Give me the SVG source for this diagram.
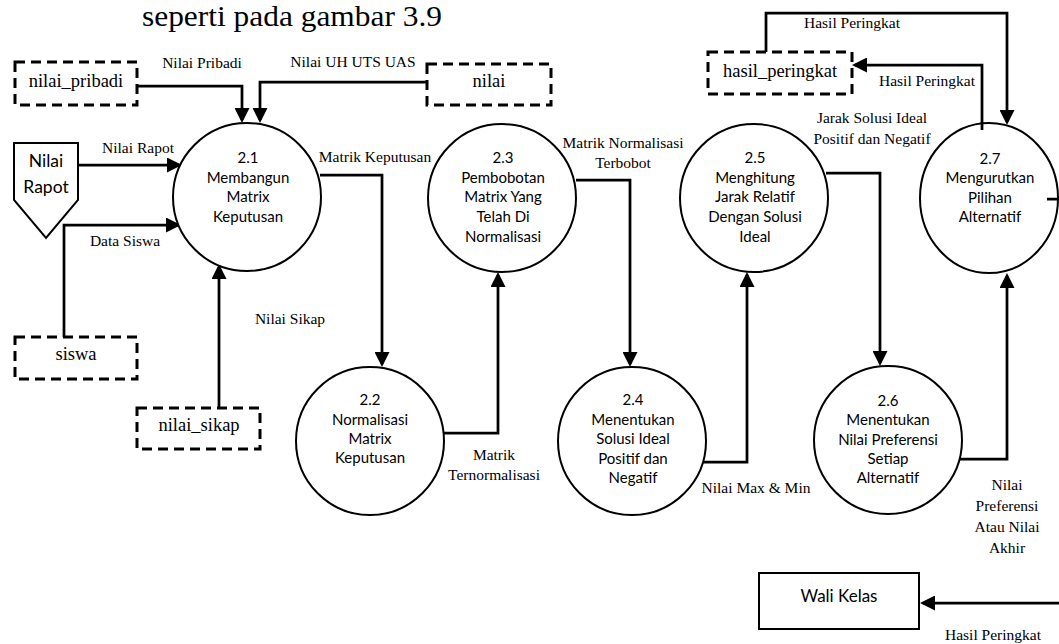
<svg xmlns="http://www.w3.org/2000/svg" width="1059" height="644" viewBox="0 0 1059 644">
<style>
.bg{fill:#fff}
.proc{fill:#fff;stroke:#000;stroke-width:2}
.store{fill:none;stroke:#000;stroke-width:3;stroke-dasharray:10 6}
.ext{fill:#fff;stroke:#000;stroke-width:2}
.flow{fill:none;stroke:#000;stroke-width:2.75;marker-end:url(#ah)}
.pt{font-family:Lato,"Liberation Sans",sans-serif;font-size:15px;text-anchor:middle;fill:#000}
.et{font-family:Lato,"Liberation Sans",sans-serif;font-size:17.5px;text-anchor:middle;fill:#000}
.st{font-family:"Liberation Serif",serif;font-size:18.5px;text-anchor:middle;fill:#000}
.lt{font-family:"Liberation Serif",serif;font-size:15.5px;text-anchor:middle;fill:#000}
.title{font-family:"Liberation Serif",serif;font-size:30px;fill:#000}
</style>
<defs>
<marker id="ah" markerUnits="userSpaceOnUse" markerWidth="15" markerHeight="15" viewBox="0 0 15 15" refX="12" refY="7.5" orient="auto">
<path d="M0,0 L15,7.5 L0,15 Z" fill="#000"/>
</marker>
</defs>
<rect class="bg" x="0" y="0" width="1059" height="644"/>
<text class="title" x="142" y="26" textLength="300" lengthAdjust="spacingAndGlyphs">seperti pada gambar 3.9</text>

<g id="connectors">
<path class="flow" d="M137,86 H242 V120"/>
<path class="flow" d="M427,82 H260 V120"/>
<path class="flow" d="M78,165 H179"/>
<path class="flow" d="M64,337 V225 H178"/>
<path class="flow" d="M219,408 V267"/>
<path class="flow" d="M320,175 H382 V364"/>
<path class="flow" d="M443,433 H498 V275"/>
<path class="flow" d="M576,180 H630 V364"/>
<path class="flow" d="M703,462 H747 V275"/>
<path class="flow" d="M826,173 H880 V363"/>
<path class="flow" d="M958,459 H1007 V276"/>
<path class="flow" d="M766,52 V13 H1007 V122"/>
<path class="flow" d="M982,130 V65 H855"/>
<path class="flow" d="M1047,199 H1063 V603 H923"/>
<text class="lt" x="202" y="68">Nilai Pribadi</text>
<text class="lt" x="353" y="67">Nilai UH UTS UAS</text>
<text class="lt" x="138" y="153">Nilai Rapot</text>
<text class="lt" x="125" y="246">Data Siswa</text>
<text class="lt" x="290" y="324">Nilai Sikap</text>
<text class="lt" x="375" y="162">Matrik Keputusan</text>
<text class="lt" x="494" y="460">Matrik</text>
<text class="lt" x="494" y="480">Ternormalisasi</text>
<text class="lt" x="623" y="148">Matrik Normalisasi</text>
<text class="lt" x="623" y="168">Terbobot</text>
<text class="lt" x="756" y="493">Nilai Max &amp; Min</text>
<text class="lt" x="872" y="123">Jarak Solusi Ideal</text>
<text class="lt" x="872" y="144">Positif dan Negatif</text>
<text class="lt" x="1007" y="490">Nilai</text>
<text class="lt" x="1007" y="511">Preferensi</text>
<text class="lt" x="1007" y="532">Atau Nilai</text>
<text class="lt" x="1007" y="553">Akhir</text>
<text class="lt" x="852" y="28">Hasil Peringkat</text>
<text class="lt" x="927" y="86">Hasil Peringkat</text>
<text class="lt" x="993" y="640">Hasil Peringkat</text>
</g>

<g id="store-nilai_pribadi">
<rect class="store" x="15" y="62" width="122" height="43"/>
<text class="st" x="76" y="87">nilai_pribadi</text>
</g>
<g id="store-nilai">
<rect class="store" x="427" y="64" width="124" height="41"/>
<text class="st" x="489" y="87">nilai</text>
</g>
<g id="store-siswa">
<rect class="store" x="15" y="337" width="122" height="42"/>
<text class="st" x="76" y="360">siswa</text>
</g>
<g id="store-nilai_sikap">
<rect class="store" x="137" y="408" width="123" height="41"/>
<text class="st" x="199" y="431">nilai_sikap</text>
</g>
<g id="store-hasil_peringkat">
<rect class="store" x="708" y="52" width="144" height="42"/>
<text class="st" x="780" y="77">hasil_peringkat</text>
</g>

<g id="ext-nilai-rapot">
<path class="ext" d="M14,143 H78 V200 L46,238 L14,200 Z"/>
<text class="et" x="46" y="167">Nilai</text>
<text class="et" x="46" y="193">Rapot</text>
</g>
<g id="ext-wali-kelas">
<rect class="ext" x="759" y="573" width="160" height="56"/>
<text class="et" x="839" y="602" style="font-size:17px">Wali Kelas</text>
</g>

<g id="p2-1">
<circle class="proc" cx="247" cy="197" r="74"/>
<text class="pt" x="248" y="163">2.1</text>
<text class="pt" x="248" y="183">Membangun</text>
<text class="pt" x="248" y="202">Matrix</text>
<text class="pt" x="248" y="222">Keputusan</text>
</g>
<g id="p2-2">
<circle class="proc" cx="370" cy="441" r="74"/>
<text class="pt" x="370" y="405">2.2</text>
<text class="pt" x="370" y="425">Normalisasi</text>
<text class="pt" x="370" y="444">Matrix</text>
<text class="pt" x="370" y="463">Keputusan</text>
</g>
<g id="p2-3">
<circle class="proc" cx="502" cy="198" r="74"/>
<text class="pt" x="503" y="163">2.3</text>
<text class="pt" x="503" y="183">Pembobotan</text>
<text class="pt" x="503" y="202">Matrix Yang</text>
<text class="pt" x="503" y="222">Telah Di</text>
<text class="pt" x="503" y="242">Normalisasi</text>
</g>
<g id="p2-4">
<circle class="proc" cx="632" cy="441" r="74"/>
<text class="pt" x="633" y="405">2.4</text>
<text class="pt" x="633" y="425">Menentukan</text>
<text class="pt" x="633" y="444">Solusi Ideal</text>
<text class="pt" x="633" y="464">Positif dan</text>
<text class="pt" x="633" y="483">Negatif</text>
</g>
<g id="p2-5">
<circle class="proc" cx="754" cy="198" r="74"/>
<text class="pt" x="755" y="163">2.5</text>
<text class="pt" x="755" y="183">Menghitung</text>
<text class="pt" x="755" y="202">Jarak Relatif</text>
<text class="pt" x="755" y="222">Dengan Solusi</text>
<text class="pt" x="755" y="242">Ideal</text>
</g>
<g id="p2-6">
<circle class="proc" cx="888" cy="440" r="74"/>
<text class="pt" x="888" y="406">2.6</text>
<text class="pt" x="888" y="425">Menentukan</text>
<text class="pt" x="888" y="445">Nilai Preferensi</text>
<text class="pt" x="888" y="464">Setiap</text>
<text class="pt" x="888" y="483">Alternatif</text>
</g>
<g id="p2-7">
<ellipse class="proc" cx="989" cy="198" rx="69" ry="75" style="fill:none"/>
<text class="pt" x="990" y="164">2.7</text>
<text class="pt" x="990" y="183">Mengurutkan</text>
<text class="pt" x="990" y="203">Pilihan</text>
<text class="pt" x="990" y="222">Alternatif</text>
</g>
</svg>
